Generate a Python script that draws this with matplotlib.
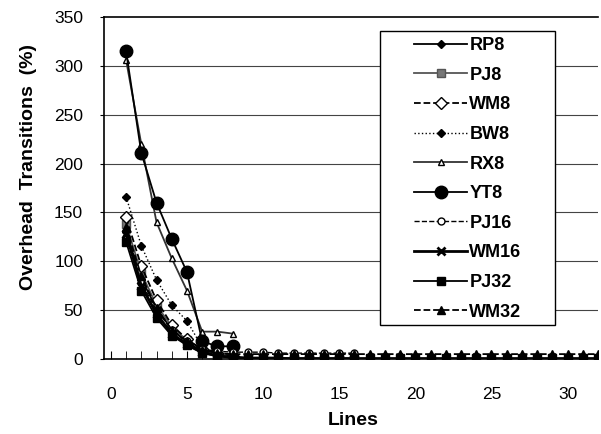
import numpy as np
import matplotlib.pyplot as plt
from matplotlib.patches import Rectangle

plt.rcParams['font.family'] = ['Liberation Sans', 'DejaVu Sans']

# 数据
x8 = list(range(1, 9))
x16 = list(range(1, 17))
x32 = list(range(1, 33))

rp8 = [130, 82, 52, 30, 17, 8, 4, 2]
pj8 = [138, 88, 55, 33, 19, 10, 5, 3]
wm8 = [145, 95, 60, 35, 20, 10, 6, 3]
bw8 = [166, 116, 81, 55, 39, 12, 6, 3]
rx8 = [306, 220, 140, 103, 70, 28, 28, 26]
yt8 = [315, 211, 160, 123, 89, 18, 13, 13]
pj16 = [125, 78, 50, 30, 18, 10, 8, 7, 7, 7, 6, 6, 6, 6, 6, 6]
wm16 = [128, 75, 46, 26, 15, 7, 3, 2, 1, 1, 1, 0, 0, 0, 0, 0]
pj32 = [120, 70, 42, 24, 14, 6, 3, 1, 1, 1, 1, 1, 1, 1, 1, 1,
        1, 1, 1, 1, 1, 1, 1, 1, 1, 1, 1, 1, 1, 1, 1, 1]
wm32 = [135, 85, 52, 30, 18, 9, 6, 5, 5, 5, 5, 5, 5, 5, 5, 5,
        5, 5, 5, 5, 5, 5, 5, 5, 5, 5, 5, 5, 5, 5, 5, 5]

fig = plt.figure(figsize=(6.01, 4.34), dpi=100)
ax = fig.add_axes([104/601, 1-359/434, 494/601, 342/434])

for v in range(50, 350, 50):
    ax.axhline(v, color='#444444', lw=0.8, zorder=0)

ax.plot(x8, rp8, '-', color='black', lw=1.3, marker='D', ms=4, label='RP8')
ax.plot(x8, pj8, '-', color='#555555', lw=1.3, marker='s', ms=6, mfc='#777777', mec='#555555', label='PJ8')
ax.plot(x8, wm8, '--', color='black', lw=1.3, marker='D', ms=6, mfc='white', mec='black', label='WM8')
ax.plot(x8, bw8, ':', color='black', lw=1.0, marker='D', ms=4, label='BW8')
ax.plot(x8, rx8, '-', color='#333333', lw=1.3, marker='^', ms=5, mfc='white', mec='black', label='RX8')
ax.plot(x8, yt8, '-', color='black', lw=1.3, marker='o', ms=9, label='YT8')
ax.plot(x16, pj16, '--', color='black', lw=1.0, marker='o', ms=5, mfc='white', mec='black', label='PJ16')
ax.plot(x16, wm16, '-', color='black', lw=2.0, marker='x', ms=6, mew=2, label='WM16')
ax.plot(x32, pj32, '-', color='black', lw=1.3, marker='s', ms=6, label='PJ32')
ax.plot(x32, wm32, '--', color='black', lw=1.3, marker='^', ms=6, label='WM32')

ax.set_xlim(-0.45, 32)
ax.set_ylim(0, 350)
ax.set_xticks(range(0, 31, 5))
ax.set_xticks(range(0, 33), minor=True)
ax.set_yticks(range(0, 351, 50))
ax.tick_params(axis='x', which='major', direction='in', length=6, pad=20, labelsize=12.5)
ax.tick_params(axis='x', which='minor', direction='in', length=6)
ax.tick_params(axis='y', direction='out', length=3, pad=12, labelsize=12.5)
for s in ['left', 'bottom', 'top']:
    ax.spines[s].set_linewidth(1.2)
ax.spines['right'].set_visible(False)

ax.set_xlabel('Lines', fontsize=14, fontweight='bold')
ax.xaxis.set_label_coords((353-104)/494, (359-412)/342)
ax.set_ylabel('Overhead  Transitions  (%)', fontsize=14, fontweight='bold')
ax.yaxis.set_label_coords((37-104)/494, (359-167)/342)

leg = ax.legend(loc='upper left', bbox_to_anchor=(0.61, 0.968), frameon=False,
                borderpad=0, handlelength=2.9, handletextpad=0.15, labelspacing=0.7,
                prop={'weight': 'bold', 'size': 13})
ax.add_patch(Rectangle((0.559, 0.099), 0.354, 0.86, transform=ax.transAxes,
                       fill=True, facecolor='white', edgecolor='black', lw=1.0, zorder=4))
leg.set_zorder(5)

fig.savefig('out.png', dpi=100)
